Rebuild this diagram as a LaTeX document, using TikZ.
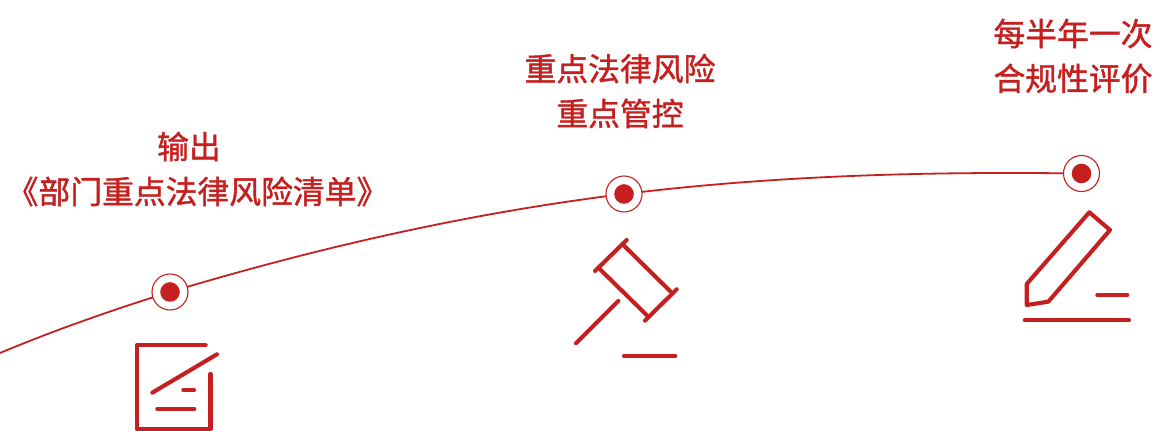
\documentclass[tikz,border=0pt]{standalone}
\usepackage{fontspec}
\newfontfamily\cjk[FakeBold=1.3]{Noto Sans CJK SC}
\definecolor{rd}{HTML}{C5201F}
\tikzset{
  x=0.5pt,y=-0.5pt,
  lbl/.style={text=rd,align=center,inner sep=0pt,font=\cjk\fontsize{15.9pt}{22.4pt}\selectfont},
  icon/.style={draw=rd,line width=2.05pt,line cap=round,line join=round},
  conn/.style={draw=rd,line width=0.9pt},
  ringo/.style={circle,draw=rd,fill=white,line width=0.55pt,minimum size=18pt,inner sep=0pt},
  dotin/.style={circle,fill=rd,minimum size=9.8pt,inner sep=0pt}
}
\begin{document}
\begin{tikzpicture}
\useasboundingbox (0,0) rectangle (1157,431);
\coordinate (start) at (0,353);
\coordinate (c1) at (170,292);
\coordinate (c2) at (624,194);
\coordinate (c3) at (1081.5,173.5);
\draw[conn] (start) .. controls (55,330) and (115,309) .. (c1)
  .. controls (320,247) and (470,213) .. (c2)
  .. controls (780,175) and (930,171.5) .. (c3);
\node[ringo] (r1) at (c1) {};
\node[ringo] (r2) at (c2) {};
\node[ringo] (r3) at (c3) {};
\node[dotin] (d1) at (c1) {};
\node[dotin] (d2) at (c2) {};
\node[dotin] (d3) at (c3) {};
\node[lbl] (t1a) at (189,146.5) {输出};
\node[lbl] (t1b) at (197.5,191.5) {《部门重点法律风险清单》};
\node[lbl] (t2) at (620,91) {重点法律风险\\重点管控};
\node[lbl] (t3) at (1073,56) {每半年一次\\合规性评价};
% icon 1
\draw[icon] (205.7,345.3) -- (136.7,345.3) -- (136.7,429) -- (210.5,429) -- (210.5,374);
\draw[icon] (152.3,392.7) -- (217,354.3);
\draw[icon] (183.3,390.3) -- (194,390.3);
\draw[icon] (157.3,409) -- (194.3,409);
% icon 2
\draw[icon] (595,271) -- (626.7,240);
\draw[icon] (645,320.7) -- (676.7,289.3);
\draw[icon] (600,269.3) -- (647.3,315.7);
\draw[icon] (623.3,245) -- (670.7,291.7);
\draw[icon] (576,343.3) -- (618.3,301);
\draw[icon] (624,356) -- (675.3,356);
% icon 3
\draw[icon] (1089.3,212.3) -- (1110,230) -- (1048.3,301.7) -- (1026.7,305) -- (1026.7,284) -- cycle;
\draw[icon] (1097.3,295) -- (1127.3,295);
\draw[icon] (1024.7,320.3) -- (1129,320.3);
\end{tikzpicture}
\end{document}
